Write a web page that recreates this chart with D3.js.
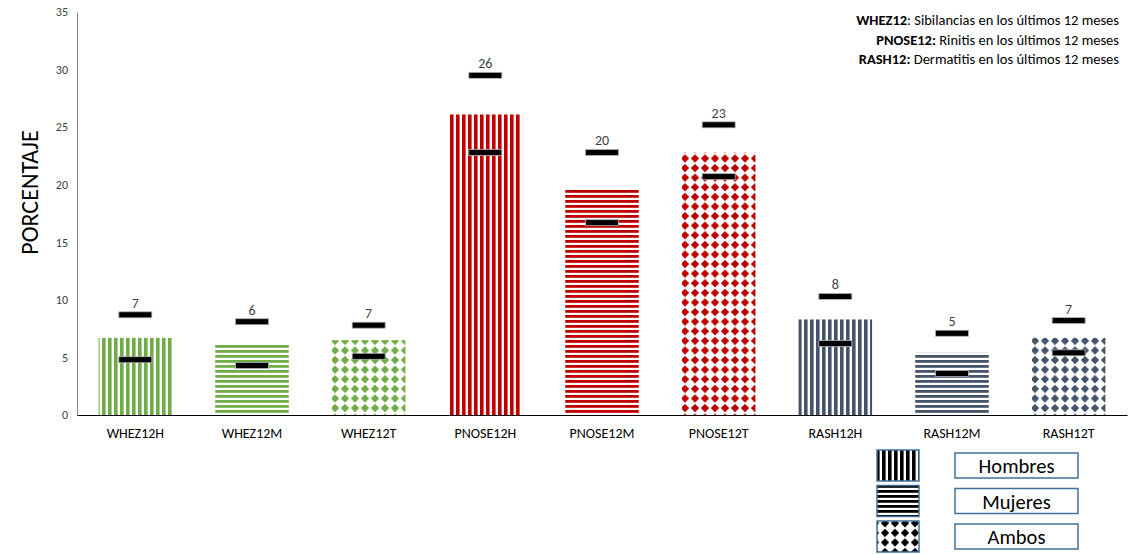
<!DOCTYPE html>
<html>
<head>
<meta charset="utf-8">
<script src="https://cdn.jsdelivr.net/npm/d3@7"></script>
<style>
  body { margin: 0; background: #fff; }
  text { font-family: Calibri, Carlito, "Liberation Sans", sans-serif; }
</style>
</head>
<body>
<div id="chart"></div>
<script>
// chart size
const width = 1128;
const height = 554;
const margin = {left: 77, right: 1, top: 12, bottom: 139};

// data
const categories = ["WHEZ12H", "WHEZ12M", "WHEZ12T", "PNOSE12H", "PNOSE12M", "PNOSE12T", "RASH12H", "RASH12M", "RASH12T"];
const values = [6.7, 6.2, 6.5, 26.1, 19.7, 22.8, 8.3, 5.4, 6.7];
const upper = [8.7, 8.1, 7.8, 29.5, 22.8, 25.2, 10.3, 7.1, 8.2];
const lower = [4.8, 4.3, 5.1, 22.8, 16.7, 20.7, 6.2, 3.6, 5.4];
const valueLabels = ["7", "6", "7", "26", "20", "23", "8", "5", "7"];
const groups = ["WHEZ", "WHEZ", "WHEZ", "PNOSE", "PNOSE", "PNOSE", "RASH", "RASH", "RASH"];
const sexes = ["H", "M", "T", "H", "M", "T", "H", "M", "T"];
const yTicks = [0, 5, 10, 15, 20, 25, 30, 35];
const legendLabels = ["Hombres", "Mujeres", "Ambos"];
const legendKeys = ["H", "M", "T"];
const notes = [
  {bold: "WHEZ12", rest: ": Sibilancias en los últimos 12 meses"},
  {bold: "PNOSE12:", rest: " Rinitis en los últimos 12 meses"},
  {bold: "RASH12:", rest: " Dermatitis en los últimos 12 meses"}
];

const groupColor = {WHEZ: "#70AD47", PNOSE: "#C00000", RASH: "#44546A"};

const svg = d3.select("#chart")
  .append("svg")
  .attr("width", width)
  .attr("height", height);

// patterns: vertical stripes, horizontal stripes, diamonds
const defs = svg.append("defs");
const patternColors = Object.assign({}, groupColor, {LEG: "#000000"});
Object.keys(patternColors).forEach(g => {
  const c = patternColors[g];
  const pv = defs.append("pattern")
    .attr("id", "p-" + g + "-H")
    .attr("patternUnits", "userSpaceOnUse")
    .attr("width", 6).attr("height", 6);
  pv.append("rect").attr("width", 6).attr("height", 6).attr("fill", "#fff");
  pv.append("rect").attr("x", 0).attr("width", 3.6).attr("height", 6).attr("fill", c);

  const ph = defs.append("pattern")
    .attr("id", "p-" + g + "-M")
    .attr("patternUnits", "userSpaceOnUse")
    .attr("width", 6).attr("height", 5);
  ph.append("rect").attr("width", 6).attr("height", 5).attr("fill", "#fff");
  ph.append("rect").attr("y", 0).attr("width", 6).attr("height", 2.8).attr("fill", c);

  const pd = defs.append("pattern")
    .attr("id", "p-" + g + "-T")
    .attr("patternUnits", "userSpaceOnUse")
    .attr("width", 10).attr("height", 9.6);
  pd.append("rect").attr("width", 10).attr("height", 9.6).attr("fill", "#fff");
  pd.append("polygon")
    .attr("points", "5,0.6 9.2,4.8 5,9 0.8,4.8")
    .attr("fill", c);
});

// scales
const yScale = d3.scaleLinear()
  .domain([0, 35])
  .range([height - margin.bottom, margin.top]);

const xScale = d3.scaleBand()
  .domain(categories)
  .range([margin.left, width - margin.right])
  .paddingInner(0.37)
  .paddingOuter(0.185);

// y axis
const yAxis = svg.append("g")
  .attr("transform", `translate(${margin.left},0)`)
  .call(d3.axisLeft(yScale).tickValues(yTicks).tickSize(0).tickPadding(9));
yAxis.select(".domain").attr("stroke", "#868686");
yAxis.selectAll("text").attr("font-size", "12px").attr("fill", "#404040")
  .style("font-family", "Calibri, Carlito, 'Liberation Sans', sans-serif");

// y title
svg.append("text")
  .attr("transform", `translate(38, ${yScale(17.5) - 21}) rotate(-90)`)
  .attr("text-anchor", "middle")
  .attr("font-size", "24px")
  .attr("fill", "#000")
  .text("PORCENTAJE");

// bars
const idx = d3.range(categories.length);
svg.selectAll(".bar")
  .data(idx)
  .enter()
  .append("rect")
    .attr("class", "bar")
    .attr("x", i => xScale(categories[i]))
    .attr("y", i => yScale(values[i]))
    .attr("width", xScale.bandwidth())
    .attr("height", i => yScale(0) - yScale(values[i]))
    .attr("fill", i => `url(#p-${groups[i]}-${sexes[i]})`);

// x axis
const xAxis = svg.append("g")
  .attr("transform", `translate(0,${yScale(0)})`)
  .call(d3.axisBottom(xScale).tickSize(0).tickPadding(13));
xAxis.select(".domain").attr("stroke", "#000").attr("stroke-width", 1.2);
xAxis.selectAll("text").attr("font-size", "14px").attr("fill", "#000")
  .style("font-family", "Calibri, Carlito, 'Liberation Sans', sans-serif");

// CI markers
const markW = 33, markH = 6;
function drawMarks(arr, cls) {
  svg.selectAll("." + cls)
    .data(idx)
    .enter()
    .append("rect")
      .attr("class", cls)
      .attr("x", i => xScale(categories[i]) + xScale.bandwidth() / 2 - markW / 2)
      .attr("y", i => yScale(arr[i]) - markH / 2)
      .attr("width", markW)
      .attr("height", markH)
      .attr("fill", "#000")
      .attr("stroke", "#b4b4b4")
      .attr("stroke-width", 0.8);
}
drawMarks(upper, "up-mark");
drawMarks(lower, "low-mark");

// value labels
svg.selectAll(".val")
  .data(idx)
  .enter()
  .append("text")
    .attr("class", "val")
    .attr("x", i => xScale(categories[i]) + xScale.bandwidth() / 2)
    .attr("y", i => yScale(upper[i]) - 7)
    .attr("text-anchor", "middle")
    .attr("font-size", "14px")
    .attr("fill", "#404040")
    .text(i => valueLabels[i]);

// notes top right
notes.forEach((n, i) => {
  const t = svg.append("text")
    .attr("x", 1119)
    .attr("y", 25 + i * 19.5)
    .attr("text-anchor", "end")
    .attr("font-size", "14.5px")
    .attr("fill", "#000");
  t.append("tspan").attr("font-weight", "bold").text(n.bold);
  t.append("tspan").text(n.rest);
});

// legend
const legend = svg.append("g");
legendLabels.forEach((lab, i) => {
  const y0 = 450 + i * 35.5;
  legend.append("rect")
    .attr("x", 877).attr("y", y0)
    .attr("width", 42).attr("height", 31)
    .attr("fill", `url(#p-LEG-${legendKeys[i]})`)
    .attr("stroke", "#41719C").attr("stroke-width", 1.5);
  legend.append("rect")
    .attr("x", 955).attr("y", y0 + 3)
    .attr("width", 123).attr("height", 25)
    .attr("fill", "#fff")
    .attr("stroke", "#41719C").attr("stroke-width", 1.5);
  legend.append("text")
    .attr("x", 1016.5).attr("y", y0 + 23)
    .attr("text-anchor", "middle")
    .attr("font-size", "20.5px")
    .attr("fill", "#000")
    .text(lab);
});
</script>
</body>
</html>
